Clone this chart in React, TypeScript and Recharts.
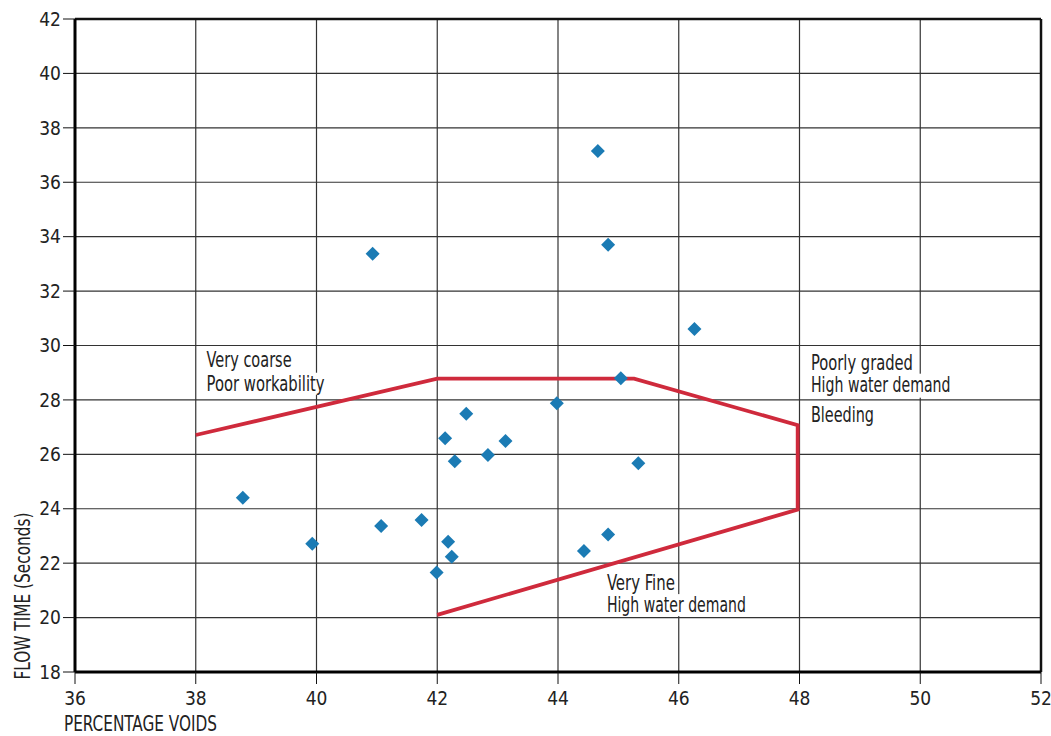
import React from 'react';
import {
  ScatterChart,
  Scatter,
  XAxis,
  YAxis,
  CartesianGrid,
  ReferenceLine,
  ReferenceDot,
  Label,
} from 'recharts';

// ---- data ----
const xTicks = [36, 38, 40, 42, 44, 46, 48, 50, 52];
const yTicks = [18, 20, 22, 24, 26, 28, 30, 32, 34, 36, 38, 40, 42];

const sampleVoids = [
  38.78, 39.93, 40.93, 41.07, 41.74, 41.99, 42.18, 42.24, 42.13, 42.29, 42.48,
  42.84, 43.13, 43.98, 44.43, 44.83, 45.04, 45.33, 44.66, 44.83, 46.26,
];
const sampleFlowTimes = [
  24.4, 22.71, 33.37, 23.37, 23.59, 21.66, 22.79, 22.24, 26.59, 25.75, 27.49,
  25.98, 26.49, 27.88, 22.45, 23.05, 28.8, 25.67, 37.15, 33.7, 30.61,
];

const boundaryVoids = [38, 42, 45.26, 47.97, 47.97, 42];
const boundaryFlowTimes = [26.71, 28.78, 28.78, 27.07, 23.97, 20.1];

const zoneTexts = [
  ['Very coarse', 'Poor workability'],
  ['Poorly graded', 'High water demand', 'Bleeding'],
  ['Very Fine', 'High water demand'],
];
const zoneAnchorVoids = [38.18, 48.19, 44.81];
const zoneAnchorFlow = [29.22, 29.1, 21.01];

const xTitle = 'PERCENTAGE VOIDS';
const yTitle = 'FLOW TIME (Seconds)';

// ---- layout / style (not data) ----
const zoneLineOffsets = [
  [0, 24],
  [0, 21.7, 51.7],
  [0, 22],
];
const zoneLineWidths = [
  [85, 118],
  [102, 139.5, 63],
  [68, 139],
];

const FONT = '"Liberation Sans Narrow", "DejaVu Sans Condensed", "Arial Narrow", sans-serif';
const MARKER = '#1b7bb4';
const RED = '#cf2a3c';

const samples = sampleVoids.map((v, i) => ({ x: v, y: sampleFlowTimes[i] }));
const boundary = boundaryVoids.map((v, i) => ({ x: v, y: boundaryFlowTimes[i] }));

const Diamond = (props: any) => {
  const { cx, cy } = props;
  if (cx == null || cy == null) return <g />;
  const r = 7;
  return (
    <polygon
      points={`${cx},${cy - r} ${cx + r},${cy} ${cx},${cy + r} ${cx - r},${cy}`}
      fill={MARKER}
    />
  );
};

const makeZoneShape = (idx: number) => (props: any) => {
  const { cx, cy } = props;
  if (cx == null || cy == null) return <g />;
  const lines = zoneTexts[idx];
  return (
    <g>
      {lines.map((t, i) => (
        <rect
          key={'r' + i}
          x={cx - 2}
          y={cy + zoneLineOffsets[idx][i] - 18}
          width={zoneLineWidths[idx][i] + 4}
          height={i === lines.length - 1 ? 22 : 24}
          fill="#fff"
        />
      ))}
      {lines.map((t, i) => (
        <text
          key={'t' + i}
          x={cx}
          y={cy + zoneLineOffsets[idx][i]}
          fontSize={20.5}
          fontFamily={FONT}
          fill="#222"
          textLength={zoneLineWidths[idx][i]}
          lengthAdjust="spacingAndGlyphs"
        >
          {t}
        </text>
      ))}
    </g>
  );
};

const XTitle = () => (
  <text
    x={64}
    y={731}
    fontSize={21}
    fontFamily={FONT}
    fill="#222"
    textLength={153}
    lengthAdjust="spacingAndGlyphs"
  >
    {xTitle}
  </text>
);

const YTitle = () => (
  <text
    x={30}
    y={596}
    transform="rotate(-90 30 596)"
    textAnchor="middle"
    fontSize={21}
    fontFamily={FONT}
    fill="#222"
    textLength={167}
    lengthAdjust="spacingAndGlyphs"
  >
    {yTitle}
  </text>
);

const tickStyle = { fontSize: 19, fontFamily: FONT, fill: '#222' };

export default function App() {
  return (
    <div style={{ position: 'absolute', left: 0, top: 0, width: 1051, height: 736, background: '#fff' }}>
      <ScatterChart
        width={1051}
        height={736}
        margin={{ top: 19, right: 10, left: 0, bottom: 0 }}
      >
        <CartesianGrid stroke="#333" strokeWidth={1.2} />
        <XAxis
          type="number"
          dataKey="x"
          domain={[36, 52]}
          ticks={xTicks}
          interval={0}
          height={64}
          tickSize={12}
          tickMargin={8}
          tick={tickStyle}
          tickLine={{ stroke: '#111', strokeWidth: 1 }}
          axisLine={{ stroke: '#000', strokeWidth: 3 }}
          allowDataOverflow
        >
          <Label content={<XTitle />} />
        </XAxis>
        <YAxis
          type="number"
          dataKey="y"
          domain={[18, 42]}
          ticks={yTicks}
          interval={0}
          width={75}
          tickSize={12}
          tickMargin={2}
          tick={tickStyle}
          tickLine={{ stroke: '#111', strokeWidth: 1 }}
          axisLine={{ stroke: '#000', strokeWidth: 3 }}
          allowDataOverflow
        >
          <Label content={<YTitle />} />
        </YAxis>
        <ReferenceLine y={42} stroke="#111" strokeWidth={2.5} />
        <ReferenceLine x={52} stroke="#111" strokeWidth={2.5} />
        {zoneTexts.map((_, i) => (
          <ReferenceDot
            key={i}
            x={zoneAnchorVoids[i]}
            y={zoneAnchorFlow[i]}
            r={0}
            ifOverflow="visible"
            shape={makeZoneShape(i)}
          />
        ))}
        <Scatter
          data={boundary}
          line={{ stroke: RED, strokeWidth: 3.8 }}
          lineJointType="linear"
          shape={() => <g />}
          isAnimationActive={false}
        />
        <Scatter data={samples} shape={Diamond} isAnimationActive={false} />
      </ScatterChart>
    </div>
  );
}
